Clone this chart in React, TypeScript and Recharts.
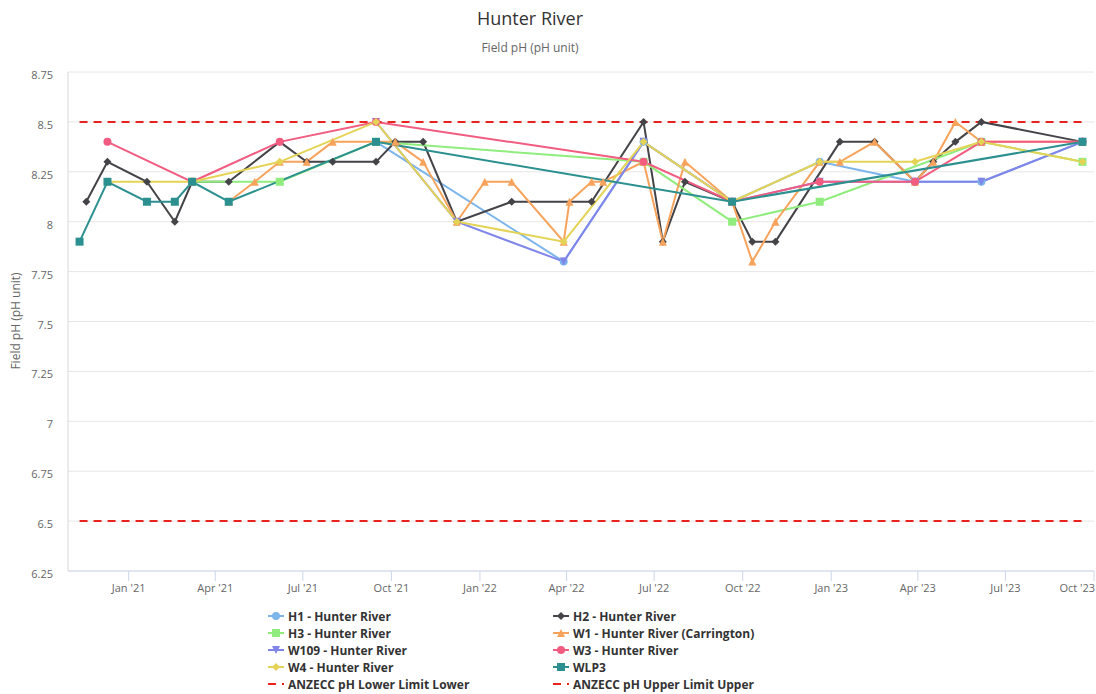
import React from "react";
import { LineChart, Line, XAxis, YAxis, CartesianGrid } from "recharts";

type Row = [string, number];

// field pH readings, [sample date, pH]
const h1: Row[] = [
  ["2021-09-15", 8.4], ["2022-03-29", 7.8], ["2022-06-20", 8.4], ["2022-09-20", 8.1],
  ["2022-12-20", 8.3], ["2023-03-29", 8.2], ["2023-06-06", 8.2], ["2023-09-19", 8.4],
];
const h2: Row[] = [
  ["2020-11-18", 8.1], ["2020-12-10", 8.3], ["2021-01-20", 8.2], ["2021-02-18", 8.0],
  ["2021-03-08", 8.2], ["2021-04-15", 8.2], ["2021-06-07", 8.4], ["2021-07-05", 8.3],
  ["2021-08-01", 8.3], ["2021-09-15", 8.3], ["2021-10-05", 8.4], ["2021-11-03", 8.4],
  ["2021-12-08", 8.0], ["2022-02-03", 8.1], ["2022-04-27", 8.1], ["2022-06-20", 8.5],
  ["2022-07-10", 7.9], ["2022-08-02", 8.2], ["2022-09-20", 8.1], ["2022-10-11", 7.9],
  ["2022-11-04", 7.9], ["2023-01-10", 8.4], ["2023-02-15", 8.4], ["2023-03-29", 8.2],
  ["2023-04-17", 8.3], ["2023-05-10", 8.4], ["2023-06-06", 8.5], ["2023-09-19", 8.4],
];
const h3: Row[] = [
  ["2021-03-08", 8.2], ["2021-06-07", 8.2], ["2021-09-15", 8.4], ["2022-06-20", 8.3],
  ["2022-09-20", 8.0], ["2022-12-20", 8.1], ["2023-06-06", 8.4], ["2023-09-19", 8.3],
];
const w1: Row[] = [
  ["2021-04-15", 8.1], ["2021-05-12", 8.2], ["2021-06-07", 8.3], ["2021-07-05", 8.3],
  ["2021-08-01", 8.4], ["2021-10-05", 8.4], ["2021-11-03", 8.3], ["2021-12-08", 8.0],
  ["2022-01-06", 8.2], ["2022-02-03", 8.2], ["2022-03-29", 7.9], ["2022-04-04", 8.1],
  ["2022-04-27", 8.2], ["2022-05-09", 8.2], ["2022-06-20", 8.3], ["2022-07-10", 7.9],
  ["2022-08-02", 8.3], ["2022-09-20", 8.1], ["2022-10-11", 7.8], ["2022-11-04", 8.0],
  ["2022-12-20", 8.3], ["2023-01-10", 8.3], ["2023-02-15", 8.4], ["2023-03-29", 8.2],
  ["2023-04-17", 8.3], ["2023-05-10", 8.5], ["2023-06-06", 8.4], ["2023-09-19", 8.4],
];
const w109: Row[] = [
  ["2021-09-15", 8.5], ["2021-12-08", 8.0], ["2022-03-29", 7.8], ["2022-06-20", 8.4],
  ["2022-09-20", 8.1], ["2022-12-20", 8.2], ["2023-03-29", 8.2], ["2023-06-06", 8.2],
  ["2023-09-19", 8.4],
];
const w3: Row[] = [
  ["2020-12-10", 8.4], ["2021-03-08", 8.2], ["2021-06-07", 8.4], ["2021-09-15", 8.5],
  ["2022-06-20", 8.3], ["2022-09-20", 8.1], ["2022-12-20", 8.2], ["2023-03-29", 8.2],
  ["2023-06-06", 8.4], ["2023-09-19", 8.4],
];
const w4: Row[] = [
  ["2020-12-10", 8.2], ["2021-03-08", 8.2], ["2021-06-07", 8.3], ["2021-09-15", 8.5],
  ["2021-12-08", 8.0], ["2022-03-29", 7.9], ["2022-06-20", 8.4], ["2022-09-20", 8.1],
  ["2022-12-20", 8.3], ["2023-03-29", 8.3], ["2023-06-06", 8.4], ["2023-09-19", 8.3],
];
const wlp3: Row[] = [
  ["2020-11-11", 7.9], ["2020-12-10", 8.2], ["2021-01-20", 8.1], ["2021-02-18", 8.1],
  ["2021-03-08", 8.2], ["2021-04-15", 8.1], ["2021-09-15", 8.4], ["2022-09-20", 8.1],
  ["2023-09-19", 8.4],
];
const lowerLimit: Row[] = [["2020-11-11", 6.5], ["2023-09-19", 6.5]];
const upperLimit: Row[] = [["2020-11-11", 8.5], ["2023-09-19", 8.5]];

const xTicks = [
  "2021-01-01", "2021-04-01", "2021-07-01", "2021-10-01",
  "2022-01-01", "2022-04-01", "2022-07-01", "2022-10-01",
  "2023-01-01", "2023-04-01", "2023-07-01", "2023-10-01",
];
const yTicks = [6.25, 6.5, 6.75, 7, 7.25, 7.5, 7.75, 8, 8.25, 8.5, 8.75];
const xRange = ["2020-10-30", "2023-10-01"];

const MONTHS = ["Jan", "Feb", "Mar", "Apr", "May", "Jun", "Jul", "Aug", "Sep", "Oct", "Nov", "Dec"];
const toTime = (d: string) => Date.parse(d + "T00:00:00Z");
const toPoints = (rows: Row[]) => rows.map(([d, v]) => ({ t: toTime(d), ph: v }));

const FONT = "'Open Sans', 'DejaVu Sans', sans-serif";

const series = [
  { name: "H1 - Hunter River", color: "#7cb5ec", shape: "circle", rows: h1 },
  { name: "H2 - Hunter River", color: "#434348", shape: "diamond", rows: h2 },
  { name: "H3 - Hunter River", color: "#90ed7d", shape: "square", rows: h3 },
  { name: "W1 - Hunter River (Carrington)", color: "#f7a35c", shape: "triangle", rows: w1 },
  { name: "W109 - Hunter River", color: "#8085e9", shape: "triangle-down", rows: w109 },
  { name: "W3 - Hunter River", color: "#f15c80", shape: "circle", rows: w3 },
  { name: "W4 - Hunter River", color: "#e4d354", shape: "diamond", rows: w4 },
  { name: "WLP3", color: "#2b908f", shape: "square", rows: wlp3 },
];
const limits = [
  { name: "ANZECC pH Lower Limit Lower", color: "#e8231f", rows: lowerLimit },
  { name: "ANZECC pH Upper Limit Upper", color: "#e8231f", rows: upperLimit },
];

function markerPath(shape: string, x: number, y: number, r = 4) {
  switch (shape) {
    case "diamond":
      return `M${x} ${y - r}L${x + r} ${y}L${x} ${y + r}L${x - r} ${y}Z`;
    case "square":
      return `M${x - r} ${y - r}H${x + r}V${y + r}H${x - r}Z`;
    case "triangle":
      return `M${x} ${y - r}L${x + r} ${y + r}L${x - r} ${y + r}Z`;
    case "triangle-down":
      return `M${x - r} ${y - r}L${x + r} ${y - r}L${x} ${y + r}Z`;
    default:
      return `M${x - r} ${y}A${r} ${r} 0 1 0 ${x + r} ${y}A${r} ${r} 0 1 0 ${x - r} ${y}Z`;
  }
}

const makeDot = (shape: string, color: string) => (props: any) => {
  const { cx, cy, index } = props;
  if (cx == null || cy == null) return <g key={index} />;
  return <path key={index} d={markerPath(shape, cx, cy)} fill={color} />;
};

const XTick = (props: any) => {
  const { x, y, payload, index } = props;
  const d = new Date(payload.value);
  const label = `${MONTHS[d.getUTCMonth()]} '${String(d.getUTCFullYear()).slice(2)}`;
  const last = index === xTicks.length - 1;
  return (
    <text
      x={last ? x + 1 : x}
      y={y + 9}
      textAnchor={last ? "end" : "middle"}
      fontSize={11}
      fill="#666666"
      fontFamily={FONT}
    >
      {label}
    </text>
  );
};

const YTick = (props: any) => {
  const { x, y, payload } = props;
  return (
    <text x={x} y={y + 7} textAnchor="end" fontSize={11} fill="#666666" fontFamily={FONT}>
      {payload.value}
    </text>
  );
};

function LegendItem({ item, x, y }: { item: any; x: number; y: number }) {
  return (
    <g transform={`translate(${x},${y})`}>
      <line
        x1={0}
        x2={16}
        y1={0}
        y2={0}
        stroke={item.color}
        strokeWidth={2}
        strokeDasharray={item.shape ? undefined : "8 6"}
      />
      {item.shape && <path d={markerPath(item.shape, 8, 0)} fill={item.color} />}
      <text x={20} y={4.5} fontSize={12} fontWeight="bold" fill="#333333" fontFamily={FONT}>
        {item.name}
      </text>
    </g>
  );
}

export default function App() {
  const legendItems = [...series, ...limits];
  return (
    <div style={{ position: "absolute", left: 0, top: 0, width: 1096, height: 694, background: "#fff" }}>
      <LineChart
        width={1096}
        height={694}
        margin={{ top: 72, right: 2, bottom: 93, left: 8 }}
      >
        <CartesianGrid vertical={false} stroke="#e6e6e6" />
        <XAxis
          dataKey="t"
          type="number"
          domain={[toTime(xRange[0]), toTime(xRange[1])]}
          ticks={xTicks.map(toTime)}
          interval={0}
          allowDataOverflow
          height={30}
          stroke="#ccd6eb"
          tickSize={10}
          tickMargin={2}
          tick={<XTick />}
        />
        <YAxis
          type="number"
          domain={[6.25, 8.75]}
          ticks={yTicks}
          interval={0}
          width={60}
          stroke="#d8d8d8"
          tickLine={false}
          tickSize={6}
          tickMargin={9}
          tick={<YTick />}
        />
        {series.map((s) => (
          <Line
            key={s.name}
            data={toPoints(s.rows)}
            dataKey="ph"
            name={s.name}
            stroke={s.color}
            strokeWidth={2}
            dot={makeDot(s.shape, s.color)}
            activeDot={false}
            isAnimationActive={false}
          />
        ))}
        {limits.map((s) => (
          <Line
            key={s.name}
            data={toPoints(s.rows)}
            dataKey="ph"
            name={s.name}
            stroke={s.color}
            strokeWidth={2}
            strokeDasharray="8 6"
            dot={false}
            activeDot={false}
            isAnimationActive={false}
          />
        ))}
      </LineChart>
      <svg
        width={1096}
        height={694}
        style={{ position: "absolute", left: 0, top: 0, pointerEvents: "none" }}
      >
        <text x={530} y={25} textAnchor="middle" fontSize={18} fill="#333333" fontFamily={FONT}>
          Hunter River
        </text>
        <text x={530} y={52} textAnchor="middle" fontSize={12} fill="#666666" fontFamily={FONT}>
          Field pH (pH unit)
        </text>
        <text
          x={0}
          y={0}
          transform="translate(20,321) rotate(-90)"
          textAnchor="middle"
          fontSize={12}
          fill="#666666"
          fontFamily={FONT}
        >
          Field pH (pH unit)
        </text>
        {legendItems.map((item, i) => (
          <LegendItem
            key={item.name}
            item={item}
            x={i % 2 === 0 ? 268 : 553}
            y={616 + Math.floor(i / 2) * 17}
          />
        ))}
      </svg>
    </div>
  );
}
